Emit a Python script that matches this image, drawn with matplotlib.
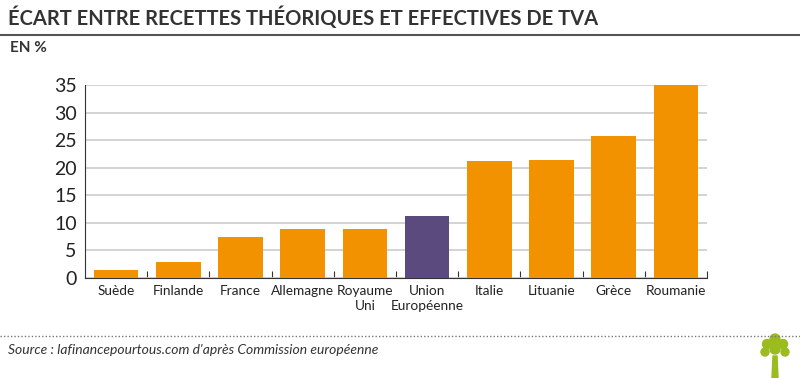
import matplotlib.pyplot as plt
from matplotlib.patches import Circle, Polygon
from matplotlib.lines import Line2D

pays = ["Suède", "Finlande", "France", "Allemagne", "Royaume\nUni",
        "Union\nEuropéenne", "Italie", "Lituanie", "Grèce", "Roumanie"]
ecart = [1.4, 2.9, 7.4, 8.8, 8.9, 11.2, 21.3, 21.4, 25.8, 35.0]
couleurs = ["#f39200"] * 5 + ["#5b4a7d"] + ["#f39200"] * 4
yticks = [0, 5, 10, 15, 20, 25, 30, 35]

plt.rcParams["font.family"] = ["Lato", "DejaVu Sans"]

fig = plt.figure(figsize=(8, 3.78), dpi=100)
ax = fig.add_axes([85 / 800, 1 - 278 / 378, 622 / 800, 193 / 378])

x = range(len(pays))
ax.bar(x, ecart, width=0.72, color=couleurs, zorder=3)
ax.set_xlim(-0.5, len(pays) - 0.5)
ax.set_ylim(0, 35)
ax.set_yticks(yticks)
ax.tick_params(axis="y", length=0, labelsize=14, pad=6, colors="#222222")
ax.grid(axis="y", color="#cccccc", linewidth=1.2, zorder=0)
ax.set_xticks([i + 0.5 for i in range(len(pays))])
ax.set_xticklabels([])
ax.set_xticks(list(x), minor=True)
ax.set_xticklabels(pays, minor=True, fontsize=9.8, color="#222222", linespacing=1.3)
ax.tick_params(axis="x", which="major", direction="in", length=5, color="#333333")
ax.tick_params(axis="x", which="minor", length=0, pad=5)
for s in ["top", "right"]:
    ax.spines[s].set_visible(False)
ax.spines["left"].set_color("#333333")
ax.spines["bottom"].set_color("#333333")

fig.text(8 / 800, 1 - 18 / 378, "ÉCART ENTRE RECETTES THÉORIQUES ET EFFECTIVES DE TVA",
         fontsize=14.5, fontweight="bold", color="#333333", va="center")
fig.add_artist(Line2D([0, 1], [1 - 35 / 378] * 2, color="#555555", lw=1.5))
fig.text(10 / 800, 1 - 48 / 378, "EN %", fontsize=11, fontweight="bold",
         color="#333333", va="center")
fig.add_artist(Line2D([0, 1], [1 - 336 / 378] * 2, color="#777777", lw=1,
                      linestyle=(0, (1, 1.5))))
fig.text(8 / 800, 1 - 350 / 378,
         "Source : lafinancepourtous.com d'après Commission européenne",
         fontsize=10, style="italic", color="#333333", va="center")

# small tree logo
vert = "#9bbb1f"
tax = fig.add_axes([752 / 800, 0, 46 / 800, 46 / 378])
tax.set_xlim(0, 46)
tax.set_ylim(0, 46)
tax.axis("off")
tax.add_patch(Polygon([[20, 0], [26, 0], [25, 22], [21, 22]], color=vert))
for cx, cy, r in [(23, 39, 5), (15, 34, 4.5), (31, 34, 4.5), (13, 26, 4),
                  (33, 26, 4), (23, 29, 5)]:
    tax.add_patch(Circle((cx, cy), r, color=vert))

fig.savefig("out.png", dpi=100)
